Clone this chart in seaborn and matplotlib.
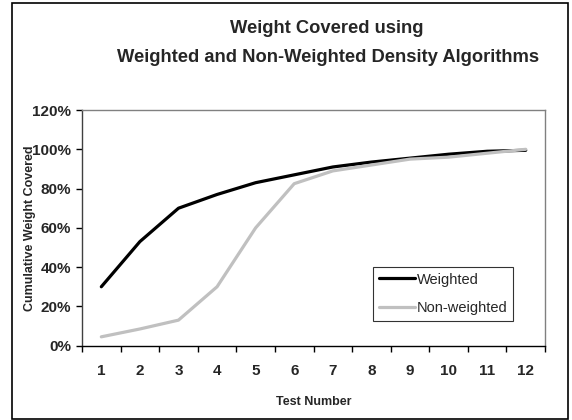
import seaborn as sns
import pandas as pd
import matplotlib.pyplot as plt
from matplotlib.patches import Rectangle
from matplotlib.ticker import FuncFormatter

test_number = [1, 2, 3, 4, 5, 6, 7, 8, 9, 10, 11, 12]
weighted = [30, 53, 70, 77, 83, 87, 91, 93.5, 95.5, 97.5, 99, 99.5]
non_weighted = [4.5, 8.5, 13, 30, 60, 82.5, 89, 92, 95, 96, 98, 100]

df = pd.DataFrame({
    'Test Number': test_number * 2,
    'Covered': weighted + non_weighted,
    'Series': ['Weighted'] * 12 + ['Non-weighted'] * 12,
})

sns.set_style('white')
plt.rcParams['font.family'] = ['Liberation Sans', 'DejaVu Sans']

fig = plt.figure(figsize=(5.72, 4.2), dpi=100)
ax = fig.add_axes([0.1434, 0.177, 0.8094, 0.561])

sns.lineplot(data=df, x='Test Number', y='Covered', hue='Series',
             palette={'Weighted': 'black', 'Non-weighted': '#c0c0c0'},
             linewidth=2.3, ax=ax)

ax.set_xlim(0.5, 12.5)
ax.set_ylim(0, 120)
ax.set_xticks(test_number)
ax.set_xticklabels([str(t) for t in test_number], fontweight='bold', fontsize=11)
ax.set_xticks([t + 0.5 for t in range(0, 13)], minor=True)
ax.set_yticks(range(0, 121, 20))
ax.yaxis.set_major_formatter(FuncFormatter(lambda v, p: f'{int(v)}%'))
for lab in ax.get_yticklabels():
    lab.set_fontweight('bold')
    lab.set_fontsize(11)
ax.tick_params(axis='x', which='major', length=0, pad=13)
ax.tick_params(axis='x', which='minor', length=4, width=1, color='black',
               direction='out', bottom=True)
ax.tick_params(axis='y', length=4, width=1, color='black', direction='out',
               left=True, pad=4)

ax.set_xlabel('Test Number', fontsize=9, fontweight='bold', labelpad=13)
ax.set_ylabel('Cumulative Weight Covered', fontsize=9, fontweight='bold')
ax.yaxis.set_label_coords(-0.1, 0.5)

for side in ['top', 'right']:
    ax.spines[side].set_color('#808080')
    ax.spines[side].set_linewidth(1)
ax.spines['left'].set_color('#404040')
ax.spines['bottom'].set_color('black')
ax.spines['left'].set_linewidth(1)
ax.spines['bottom'].set_linewidth(1)

leg = ax.legend(loc='upper left', bbox_to_anchor=(0.628, 0.335),
                frameon=True, fancybox=False, fontsize=10.5,
                handlelength=2.5, handletextpad=0.1, borderpad=0.4,
                labelspacing=1.0, borderaxespad=0)
leg.get_frame().set_edgecolor('black')
leg.get_frame().set_linewidth(0.8)

fig.text(0.572, 0.932, 'Weight Covered using', ha='center', va='center',
         fontsize=13.2, fontweight='bold')
fig.text(0.574, 0.862, 'Weighted and Non-Weighted Density Algorithms',
         ha='center', va='center', fontsize=13.2, fontweight='bold')

fig.patches.append(Rectangle((0.021, 0.003), 0.972, 0.99,
                             transform=fig.transFigure, fill=False,
                             edgecolor='black', linewidth=1.2))

fig.savefig('out.png', dpi=100)
